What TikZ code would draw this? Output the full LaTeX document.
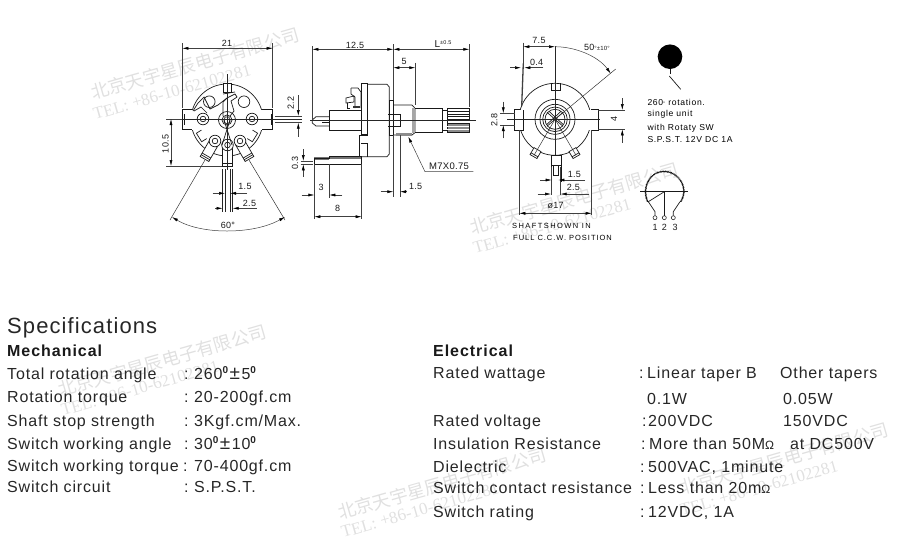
\documentclass[tikz,border=0pt]{standalone}
\usepackage{fontspec}
\setmainfont{Liberation Sans}
\newfontfamily\cjkfont{Noto Sans CJK SC}
\newfontfamily\telfont{Liberation Serif}
\usetikzlibrary{arrows.meta}
\usetikzlibrary{decorations.pathmorphing}
\tikzset{
	partline/.style={black!90, line width=0.7pt},
	centerline/.style={black!85, line width=0.45pt},
	dimline/.style={black!75, line width=0.5pt, >={Latex[length=6pt,width=3pt,black]}},
	dimtext/.style={font=\fontsize{9}{10}\selectfont\addfontfeatures{LetterSpace=3}, black!90, inner sep=0pt},
	notetext/.style={font=\fontsize{8.6}{10}\selectfont\addfontfeatures{LetterSpace=8}, anchor=base west, inner sep=0pt},
	rowtext/.style={font=\fontsize{16}{18}\selectfont\addfontfeatures{LetterSpace=5.2}, black!85, anchor=base west, inner sep=0pt},
	headtext/.style={font=\fontsize{16}{18}\bfseries\selectfont\addfontfeatures{LetterSpace=6}, black!90, anchor=base west, inner sep=0pt},
	marka/.style={font=\cjkfont\fontsize{18}{18}\selectfont, black!12, rotate=16, anchor=base west, inner sep=0pt},
	markb/.style={font=\telfont\fontsize{17}{18}\selectfont, black!12, rotate=16, anchor=base west, inner sep=0pt},
}
\newcommand{\sidelug}{\draw[partline,fill=white] (-5,26) rectangle (5,45);
					\draw[partline] (-5,41) -- (5,41);
					\draw[partline] (-5,43) -- (5,43);}
\newcommand{\pinring}{\draw[partline,fill=white] (0,0) circle [radius=5.8pt];
					\draw[partline] (0,0) circle [radius=2.8pt];}
\newcommand{\slotcut}{\draw[partline] (-5,27) -- (-5,33) -- (5,33) -- (5,27);}
\newcommand{\degzero}{{\fontsize{10}{10}\bfseries\selectfont\raisebox{5.5pt}{0}}}

\begin{document}
\begin{tikzpicture}[x=1pt,y=-1pt]
	\useasboundingbox (0,0) rectangle (911,542);

	%watermark
	\node(marka1)[marka] at (93,100) {北京天宇星辰电子有限公司};
	\node(markb1)[markb] at (95,120) {TEL: +86-10-62102281};
	\node(marka2)[marka] at (472,235) {北京天宇星辰电子有限公司};
	\node(markb2)[markb] at (475,254) {TEL: +86-10-62102281};
	\node(marka3)[marka] at (60,397) {北京天宇星辰电子有限公司};
	\node(markb3)[markb] at (63,416) {TEL: +86-10-62102281};
	\node(marka4)[marka] at (340,520) {北京天宇星辰电子有限公司};
	\node(markb4)[markb] at (343,538) {TEL: +86-10-62102281};
	\node(marka5)[marka] at (682,495) {北京天宇星辰电子有限公司};
	\node(markb5)[markb] at (682,516) {TEL: +86-10-62102281};

	%left view
	\begin{scope}[shift={(227,120)}]
		\draw[partline] (0,0) circle [radius=36pt];
		\fill[white] (-44,-10.5) rectangle (-30,9.5);
		\fill[white] (44,-10.5) rectangle (30,9.5);
		\draw[partline] (-35,-10.5) -- (-44.5,-10.5) -- (-44.5,9.5) -- (-35,9.5);
		\draw[partline] (-43,-6) -- (-43,5);
		\draw[partline] (35,-10.5) -- (45.5,-10.5) -- (45.5,9.5) -- (35,9.5);
		\draw[partline] (44,-6) -- (44,5);
		\draw[partline,fill=white] (-4,-37) rectangle (4,-28);
		\begin{scope}[rotate=-30]
			\sidelug
		\end{scope}
		\begin{scope}[rotate=30]
			\sidelug
		\end{scope}
		\begin{scope}[rotate=-58]
			\slotcut
		\end{scope}
		\begin{scope}[rotate=58]
			\slotcut
		\end{scope}
		%front lug
		\draw[partline,fill=white] (-5,27) rectangle (5.5,46);
		\draw[partline] (-5,43) -- (5.5,43);
		\begin{scope}[shift={(-12,21)}]
			\pinring
		\end{scope}
		\begin{scope}[shift={(0.5,25)}]
			\pinring
		\end{scope}
		\begin{scope}[shift={(13,21)}]
			\pinring
		\end{scope}
		\begin{scope}[shift={(-24,-1)}]
			\pinring
		\end{scope}
		\begin{scope}[shift={(25,-1)}]
			\pinring
		\end{scope}
		%upper holes
		\draw[partline] (-17.7,-18.3) circle [radius=5.8pt];
		\draw[partline] (17,-18.3) circle [radius=5.8pt];
		%switch lever
		\draw[partline] (-34,-9) -- (-29,-17) -- (-23,-23) -- (-17,-11) -- (-9,-15) -- (0,-22) -- (8,-26) -- (10,-23) -- (4,-19) -- (7,-9) -- (3,-4);
		\draw[partline] (-33,-9) -- (-26,-13) -- (-20,-7);
		\draw[partline] (-4,-4) -- (-4,-18) -- (0,-22);
		%shaft end
		\draw[partline] (0,0) circle [radius=8.5pt];
		\draw[partline] (0,0) circle [radius=5pt];
		\draw[partline] (-2,-3) -- (2,-3) -- (3,2) -- (0,4) -- (-3,2) -- cycle;
		\draw[partline] (-5,25) -- (3,0);
		\draw[partline] (5,25) -- (-3,0);
		\draw[partline] (-4,-26) -- (8,-28);
	\end{scope}
	\draw[centerline] (176,119) -- (302,119);
	\draw[centerline] (227,74) -- (227,170);
	\draw[centerline] (222.5,169) -- (222.5,212);
	\draw[centerline] (225,169) -- (225,212);
	\draw[centerline] (230,169) -- (230,212);
	\draw[centerline] (232.7,169) -- (232.7,212);
	\draw[centerline] (205,160) -- (170,220);
	\draw[centerline] (249,160) -- (285,220);

	\draw[dimline] (182.3,43) -- (182.3,108);
	\draw[dimline] (272.7,43) -- (272.7,108);
	\draw[dimline,<->] (182.3,48.3) -- (272.7,48.3);
	\node(dimleftw)[dimtext] at (227,43) {21};
	\draw[dimline] (166,119) -- (182,119);
	\draw[dimline] (166,166) -- (222,166);
	\draw[dimline,<->] (171,119) -- (171,166);
	\node(dimleftv)[dimtext,rotate=90] at (165.5,144) {10.5};
	\draw[dimline,->] (212.7,193.3) -- (225,193.3);
	\draw[dimline,->] (247,193.3) -- (230,193.3);
	\node(dimpina)[dimtext] at (245,186) {1.5};
	\draw[dimline,->] (215,208.3) -- (222.5,208.3);
	\draw[dimline,->] (256.7,208.3) -- (232.7,208.3);
	\node(dimpinb)[dimtext] at (249.5,203.5) {2.5};
	\draw[dimline,<->] (172,217) .. controls (190,228) and (210,231) .. (227,231) .. controls (245,231) and (265,228) .. (285,217);
	\node(dimangle)[dimtext] at (228,225) {60°};

	%side view
	\draw[partline] (361.3,135) -- (359,135) -- (359,157) -- (361.5,157);
	\draw[partline] (367.7,84.3) -- (387,84.3) -- (389.3,87) -- (389.3,154) -- (387,156.7) -- (361.5,156.7);
	\draw[partline] (361,143) -- (367.7,143) -- (367.7,156.7);
	\draw[partline,fill=white,line width=1.2pt] (361.3,83.3) rectangle (367.7,135);
	\draw[partline] (361.3,110.7) -- (329.3,110.7) -- (329.3,130.3) -- (361.3,130.3);
	\draw[partline] (329.3,116.7) -- (316,116.7) -- (312.3,120) -- (312.3,123) -- (316,126) -- (329.3,126);
	\draw[partline] (329.3,122) -- (322,122);
	\draw[partline,fill=white] (389.3,100) rectangle (393.3,135);
	\draw[partline] (393.3,105) -- (412,105) -- (415,108.3) -- (415,132.7) -- (412,135) -- (393.3,135);
	\draw[partline] (388.3,114.3) -- (400,114.3) -- (400,126.7) -- (388.3,126.7);
	\fill[black!45] (396,133) rectangle (412,136);
	\fill[black!35] (412,108) rectangle (415,133);
	\draw[partline] (415,108.3) -- (442.7,108.3) -- (442.7,132.7) -- (415,132.7);
	\draw[partline] (442.7,110.7) -- (447.3,110.7) -- (447.3,130) -- (442.7,130);
	\draw[partline,fill=white] (447.3,108.3) rectangle (469.3,119);
	\draw[partline,fill=black!45] (447.3,123.3) rectangle (469.3,132.7);
	\draw[partline] (447.3,111) -- (469.3,111);
	\draw[partline] (447.3,114) -- (469.3,114);
	\draw[partline] (447.3,116.5) -- (469.3,116.5);
	\draw[partline,white] (447.3,126) -- (469.3,126);
	\draw[partline,white] (447.3,129) -- (469.3,129);
	%terminal
	\draw[partline] (351,88) -- (358,88) -- (361,92) -- (361,108);
	\draw[partline] (351,88) -- (351,94) -- (355,97) -- (355,108);
	\draw[partline] (346,98) -- (354,96) -- (354,102) -- (346,103) -- cycle;
	\draw[partline] (347,103) -- (347,108) -- (350,108);
	\fill[black!80] (352.7,106) rectangle (360,108.3);
	%solder lug
	\fill[black!55] (314.3,157.3) rectangle (329.3,160);
	\fill[black!55] (329.3,156) rectangle (361.5,158.5);
	\draw[partline] (314.3,158) -- (329.3,158) -- (329.3,156.5) -- (361.5,156.5) -- (361.5,164) -- (314.3,164) -- cycle;
	\draw[centerline] (310,120.7) -- (476,120.7);

	\draw[dimline] (312.3,46) -- (312.3,120);
	\draw[dimline] (393.3,44) -- (393.3,100);
	\draw[dimline] (393.3,135) -- (393.3,197);
	\draw[dimline] (469.3,44) -- (469.3,107);
	\draw[dimline,<->] (312.3,49.3) -- (393.3,49.3);
	\draw[dimline,<->] (393.3,49.3) -- (469.3,49.3);
	\node(dimshaftb)[dimtext] at (355,45) {12.5};
	\node(dimshaftl)[dimtext] at (443,44) {{\fontsize{10}{10}\selectfont L}\raisebox{3.5pt}{\fontsize{5.5}{5}\selectfont ±0.5}};
	\draw[dimline] (415.3,62.7) -- (415.3,105);
	\draw[dimline,<->] (393.3,67.7) -- (415.3,67.7);
	\node(dimbush)[dimtext] at (404,61) {5};
	\draw[dimline] (275,116) -- (301.7,116);
	\draw[dimline] (275,122.7) -- (301.7,122.7);
	\draw[dimline,->] (298.3,95) -- (298.3,116);
	\draw[dimline,->] (298.3,136.7) -- (298.3,122.7);
	\node(dimleftt)[dimtext,rotate=90] at (290.7,103) {2.2};
	\draw[dimline] (300.7,161) -- (313.3,161);
	\draw[dimline] (300.7,164.3) -- (313.3,164.3);
	\draw[dimline,->] (303.3,149) -- (303.3,161);
	\draw[dimline,->] (303.3,176.7) -- (303.3,164.3);
	\node(dimlug)[dimtext,rotate=90] at (295,163) {0.3};
	\draw[dimline] (314.3,164) -- (314.3,219);
	\draw[dimline] (329.3,164) -- (329.3,198);
	\draw[dimline] (361.7,164) -- (361.7,219);
	\draw[dimline,->] (301.7,195) -- (314.3,195);
	\draw[dimline,->] (342.3,195) -- (329.3,195);
	\node(dimluga)[dimtext] at (321,187) {3};
	\draw[dimline,<->] (314.3,216.7) -- (361.7,216.7);
	\node(dimlugb)[dimtext] at (337.7,208) {8};
	\draw[dimline] (400,135) -- (400,197);
	\draw[dimline,->] (380.7,191.7) -- (393.3,191.7);
	\draw[dimline,->] (406.7,191.7) -- (400,191.7);
	\node(dimthread)[dimtext] at (415.7,186) {1.5};
	\draw[dimline,->] (473.3,171.7) -- (425,171.7) -- (408.3,136.7);
	\node(dimm)[dimtext,font=\fontsize{9.5}{10}\selectfont\addfontfeatures{LetterSpace=3}] at (449,166.5) {M7X0.75};

	%right view
	\begin{scope}[shift={(555,119.3)}]
		\draw[partline] (0,0) circle [radius=36pt];
		\fill[white] (-41,-9.5) rectangle (-31,11);
		\fill[white] (43,-9.5) rectangle (31,11);
		\draw[partline] (-35,-9.5) -- (-40.7,-9.5) -- (-40.7,10.7) -- (-31.7,10.7) -- (-31.7,-9.5);
		\draw[partline] (36,-9.5) -- (43.3,-9.5) -- (43.3,10.7) -- (36.7,10.7);
		\draw[partline] (-3.3,-36) -- (-3.3,-28.5) -- (5,-28.5) -- (5,-36);
		\begin{scope}[rotate=-30]
			\draw[partline,fill=white] (-4,35) rectangle (4,43);
			\draw[partline] (-4,41) -- (4,41);
		\end{scope}
		\begin{scope}[rotate=30]
			\draw[partline,fill=white] (-4,35) rectangle (4,43);
			\draw[partline] (-4,41) -- (4,41);
		\end{scope}
		\draw[partline,fill=white] (-4,36) -- (-4,63) ;
		\draw[partline] (6.5,36) -- (6.5,63);
		\draw[partline] (-4,46) -- (6.5,46) ;
		\draw[partline] (-3,36) -- (6,36);
		\draw[partline] (-1.8,46) -- (-1.8,56) -- (3.5,56) -- (3.5,46);
		\draw[partline] (0,0) circle [radius=20pt];
		\draw[partline] (0,0) circle [radius=15pt];
		\draw[partline] (0,0) circle [radius=12.3pt];
		\draw[partline] (0,0) circle [radius=10pt];
		\draw[partline] (-8,-7) -- (8,7);
		\draw[partline] (-8,7) -- (8,-7);
		\draw[partline] (-6,-8) -- (8,5);
		\draw[partline] (-8,5) -- (6,-8);
		\draw[centerline] (0,0) -- (-21,36);
		\draw[centerline] (0,0) -- (21,36);
		\draw[centerline] (0,0) -- (60.7,-50.3);
		\draw[centerline] (0,-73) -- (0,0);
		\draw[centerline] (-48,0) -- (45,0);
		\draw[centerline] (0,0) -- (0,36);
	\end{scope}
	\draw[line width=1.3pt, black!75] (523.3,63.3) -- (521.7,106);
	\draw[dimline] (523,42.7) -- (523,66);
	\draw[dimline,<->] (523.3,46.7) -- (555,46.7);
	\node(dimearb)[dimtext] at (539,40.5) {7.5};
	\draw[dimline,->] (510,67.7) -- (521,67.7);
	\draw[dimline,->] (543.3,67.7) -- (524.3,67.7);
	\node(dimplate)[dimtext] at (536.7,62.5) {0.4};
	\draw[dimline,->] (555,46.7) .. controls (575,46.7) and (598,56) .. (610.7,73.5);
	\node(dimrot)[dimtext] at (597,47.3) {50{\fontsize{6}{6}\selectfont °±10°}};
	\draw[dimline] (500,113.3) -- (515,113.3);
	\draw[dimline] (500,125) -- (515,125);
	\draw[dimline,->] (503.3,101.7) -- (503.3,113.3);
	\draw[dimline,->] (503.3,138.3) -- (503.3,125);
	\node(dimeart)[dimtext,rotate=90] at (494.3,120) {2.8};
	\draw[dimline] (598.3,110) -- (625,110);
	\draw[dimline] (598.3,129.3) -- (625,129.3);
	\draw[dimline,->] (622.3,98.3) -- (622.3,110);
	\draw[dimline,->] (622.3,142.7) -- (622.3,129.3);
	\node(dimearh)[dimtext,rotate=90] at (614,119.3) {4};
	\draw[dimline] (551,166.7) -- (551,195);
	\draw[dimline] (560.7,166.7) -- (560.7,195);
	\draw[dimline,->] (540,180) -- (551.7,180);
	\draw[dimline,->] (585,180) -- (558.3,180);
	\node(dimpinc)[dimtext] at (574.3,174) {1.5};
	\draw[dimline,->] (537.7,194) -- (551,194);
	\draw[dimline,->] (589.3,194) -- (560.7,194);
	\node(dimpind)[dimtext] at (573.3,187.7) {2.5};
	\draw[dimline] (519.3,130) -- (519.3,215);
	\draw[dimline] (591.7,130) -- (591.7,215);
	\draw[dimline,<->] (519.3,213.3) -- (591.7,213.3);
	\node(dimbody)[dimtext] at (555.7,205.7) {ø17};
	\node(shaftnotea)[notetext,font=\fontsize{7.5}{9}\selectfont\addfontfeatures{LetterSpace=19}] at (512,228) {SHAFTSHOWN IN};
	\node(shaftnoteb)[notetext,font=\fontsize{7.5}{9}\selectfont\addfontfeatures{LetterSpace=13}] at (513,240) {FULL C.C.W. POSITION};

	%taper symbol
	\fill[black] (670,56.7) circle [radius=12.3pt];
	\draw[partline,line width=0.8pt] (670,69) -- (670,73.5);
	\draw[partline] (669.3,76) -- (680.7,89.3);
	\node(notea)[notetext] at (647.3,105) {260{\fontsize{5}{5}\selectfont °} rotation.};
	\node(noteb)[notetext] at (647.3,116) {single unit};
	\node(notec)[notetext] at (647.3,130) {with Rotaty SW};
	\node(noted)[notetext] at (647.3,142) {S.P.S.T. 12V DC 1A};

	%schematic
	\draw[partline,decorate,decoration={bumps,segment length=3pt,amplitude=1pt}] (648.3,201.7) .. controls (642,188) and (650,172) .. (664,172) .. controls (678,172) and (689,188) .. (680,201.7);
	\draw[partline] (640,191.7) -- (688,191.7);
	\draw[partline] (664.3,191.7) -- (664.3,215.5);
	\draw[partline] (664.3,191.7) -- (648.3,201.7) -- (655,211.7) -- (655,215.5);
	\draw[partline] (680,201.7) -- (673.3,211.7) -- (673.3,215.5);
	\node(terma)[draw=black!85,circle,inner sep=0pt,minimum size=4pt,line width=0.6pt] at (655,217.7) {};
	\node(termb)[draw=black!85,circle,inner sep=0pt,minimum size=4pt,line width=0.6pt] at (664.3,217.7) {};
	\node(termc)[draw=black!85,circle,inner sep=0pt,minimum size=4pt,line width=0.6pt] at (673.3,217.7) {};
	\node(labela)[dimtext] at (655,227.5) {1};
	\node(labelb)[dimtext] at (664.3,227.5) {2};
	\node(labelc)[dimtext] at (675,227.5) {3};

	%specifications
	\node(spectitle)[rowtext,font=\fontsize{22}{24}\selectfont\addfontfeatures{LetterSpace=5}] at (7,333) {Specifications};
	\node(mechhead)[headtext] at (7,356) {Mechanical};
	\node(mecha)[rowtext] at (7,379) {Total rotation angle};
	\node(mechb)[rowtext] at (7,402.7) {Rotation torque};
	\node(mechc)[rowtext] at (7,426) {Shaft stop strength};
	\node(mechd)[rowtext] at (7,449) {Switch working angle};
	\node(meche)[rowtext] at (7,471) {Switch working torque};
	\node(mechf)[rowtext] at (7,492.7) {Switch circuit};
	\node(mechca)[rowtext] at (184,379) {:};
	\node(mechcb)[rowtext] at (184,402.7) {:};
	\node(mechcc)[rowtext] at (184,426) {:};
	\node(mechcd)[rowtext] at (184,449) {:};
	\node(mechce)[rowtext] at (183,471) {:};
	\node(mechcf)[rowtext] at (184,492.7) {:};
	\node(mechva)[rowtext] at (194,379) {260\degzero\kern1.5pt{\fontsize{19}{19}\selectfont ±}\kern1.5pt 5\degzero};
	\node(mechvb)[rowtext] at (194,402.7) {20-200gf.cm};
	\node(mechvc)[rowtext] at (194,426) {3Kgf.cm/Max.};
	\node(mechvd)[rowtext] at (194,449) {30\degzero\kern1.5pt{\fontsize{19}{19}\selectfont ±}\kern1.5pt 10\degzero};
	\node(mechve)[rowtext] at (194,471) {70-400gf.cm};
	\node(mechvf)[rowtext] at (194,492.7) {S.P.S.T.};

	\node(elechead)[headtext] at (433,356) {Electrical};
	\node(eleca)[rowtext] at (433,378.3) {Rated wattage};
	\node(elecb)[rowtext] at (433,426) {Rated voltage};
	\node(elecc)[rowtext] at (433,449.3) {Insulation Resistance};
	\node(elecd)[rowtext] at (433,472.3) {Dielectric};
	\node(elece)[rowtext] at (433,493.3) {Switch contact resistance};
	\node(elecf)[rowtext] at (433,517.3) {Switch rating};
	\node(elecca)[rowtext] at (639,378.3) {:};
	\node(eleccb)[rowtext] at (642,426) {:};
	\node(eleccc)[rowtext] at (641,449.3) {:};
	\node(eleccd)[rowtext] at (640,472.3) {:};
	\node(elecce)[rowtext] at (640,493.3) {:};
	\node(eleccf)[rowtext] at (640,517.3) {:};
	\node(elecva)[rowtext] at (647,378.3) {Linear taper B};
	\node(elecvat)[rowtext] at (780,378.3) {Other tapers};
	\node(elecvw)[rowtext] at (647,404) {0.1W};
	\node(elecvwt)[rowtext] at (783,404) {0.05W};
	\node(elecvb)[rowtext] at (648,426) {200VDC};
	\node(elecvbt)[rowtext] at (783,426) {150VDC};
	\node(elecvc)[rowtext] at (649,449.3) {More than 50M{\fontsize{12}{12}\selectfont Ω}\quad at DC500V};
	\node(elecvd)[rowtext] at (648,472.3) {500VAC, 1minute};
	\node(elecve)[rowtext] at (648,493.3) {Less than 20m{\fontsize{12}{12}\selectfont Ω}};
	\node(elecvf)[rowtext] at (648,517.3) {12VDC, 1A};
\end{tikzpicture}
\end{document}
